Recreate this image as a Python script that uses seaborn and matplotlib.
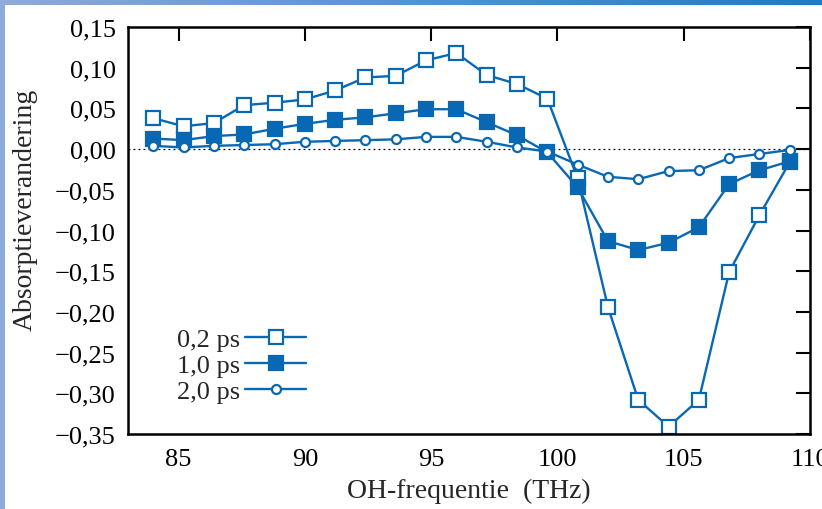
import numpy as np
import seaborn as sns
import matplotlib.pyplot as plt
from matplotlib.ticker import FuncFormatter
import matplotlib.patches as patches

# Data
freq = [84.0, 85.2, 86.4, 87.6, 88.8, 90.0, 91.2, 92.4, 93.6, 94.8, 96.0,
        97.2, 98.4, 99.6, 100.8, 102.0, 103.2, 104.4, 105.6, 106.8, 108.0, 109.2]
ps02 = [0.038, 0.028, 0.032, 0.054, 0.057, 0.061, 0.072, 0.088, 0.090, 0.109, 0.118,
        0.091, 0.080, 0.062, -0.036, -0.194, -0.308, -0.341, -0.308, -0.151, -0.081, -0.016]
ps10 = [0.013, 0.011, 0.016, 0.018, 0.025, 0.031, 0.036, 0.039, 0.044, 0.049, 0.049,
        0.033, 0.017, -0.004, -0.047, -0.113, -0.124, -0.115, -0.096, -0.043, -0.026, -0.015]
ps20 = [0.004, 0.002, 0.004, 0.005, 0.006, 0.009, 0.010, 0.011, 0.012, 0.015, 0.015,
        0.009, 0.002, -0.003, -0.019, -0.034, -0.037, -0.027, -0.026, -0.011, -0.006, -0.001]
labels = ["0,2 ps", "1,0 ps", "2,0 ps"]
xticks = [85, 90, 95, 100, 105, 110]
yticks = [-0.35, -0.30, -0.25, -0.20, -0.15, -0.10, -0.05, 0.00, 0.05, 0.10, 0.15]

sns.set_theme(style="white")
plt.rcParams['font.family'] = ['Liberation Serif', 'DejaVu Serif']

blue = "#0868b4"

fig = plt.figure(figsize=(8.22, 5.10), dpi=100)
ax = fig.add_axes([128 / 822, 75 / 510, 682 / 822, 407 / 510])

# zero line
ax.axhline(0, color="black", lw=0.9, ls=(0, (1.5, 2.5)), zorder=1)

common = dict(ax=ax, color=blue, lw=1.7, markeredgecolor=blue, markeredgewidth=1.6)
sns.lineplot(x=freq, y=ps02, marker="s", markersize=9.5, markerfacecolor="white",
             label=labels[0], **common)
sns.lineplot(x=freq, y=ps10, marker="s", markersize=9.5, markerfacecolor=blue,
             label=labels[1], **common)
sns.lineplot(x=freq, y=ps20, marker="o", markersize=6.5, markerfacecolor="white",
             label=labels[2], **common)

ax.set_xlim(83, 110)
ax.set_ylim(-0.35, 0.15)
ax.set_xticks(xticks)
ax.set_yticks(yticks)


def comma_fmt(v, pos):
    if abs(v) < 1e-9:
        v = 0.0
    return f"{v:.2f}".replace(".", ",").replace("-", "\u2212")


ax.yaxis.set_major_formatter(FuncFormatter(comma_fmt))
ax.xaxis.set_major_formatter(FuncFormatter(lambda v, p: f"{v:.0f}"))

ax.tick_params(axis="both", which="major", direction="in", length=10, width=1.5,
               top=True, right=True, colors="black", labelsize=19)
ax.tick_params(axis="y", pad=9)
ax.tick_params(axis="x", pad=10)
for s in ax.spines.values():
    s.set_visible(True)
    s.set_color("black")
    s.set_linewidth(1.8)

ax.set_xlabel("OH-frequentie  (THz)", fontsize=20, labelpad=6)
ax.set_ylabel("Absorptieverandering", fontsize=20)
ax.yaxis.set_label_coords(-0.133, 0.553)

leg = ax.legend(loc="lower right", bbox_to_anchor=(0.261, 0.075), frameon=False,
                markerfirst=False, fontsize=19, handlelength=2.3, handletextpad=0.2,
                labelspacing=0.1, borderpad=0, borderaxespad=0)

# decorative border: gradient bar on top and strip on the left
bar = fig.add_axes([0, 1 - 6 / 510, 1, 6 / 510])
grad = np.linspace(0, 1, 256)
c0 = np.array([143, 171, 218]) / 255
c1 = np.array([31, 123, 196]) / 255
img = c0[None, None, :] * (1 - grad[None, :, None]) + c1[None, None, :] * grad[None, :, None]
bar.imshow(img, aspect="auto", extent=[0, 1, 0, 1])
bar.set_axis_off()
fig.patches.append(patches.Rectangle((0, 0), 5 / 822, 1, transform=fig.transFigure,
                                     facecolor="#8eaadb", edgecolor="none", zorder=0))

fig.savefig("out.png", dpi=100)
